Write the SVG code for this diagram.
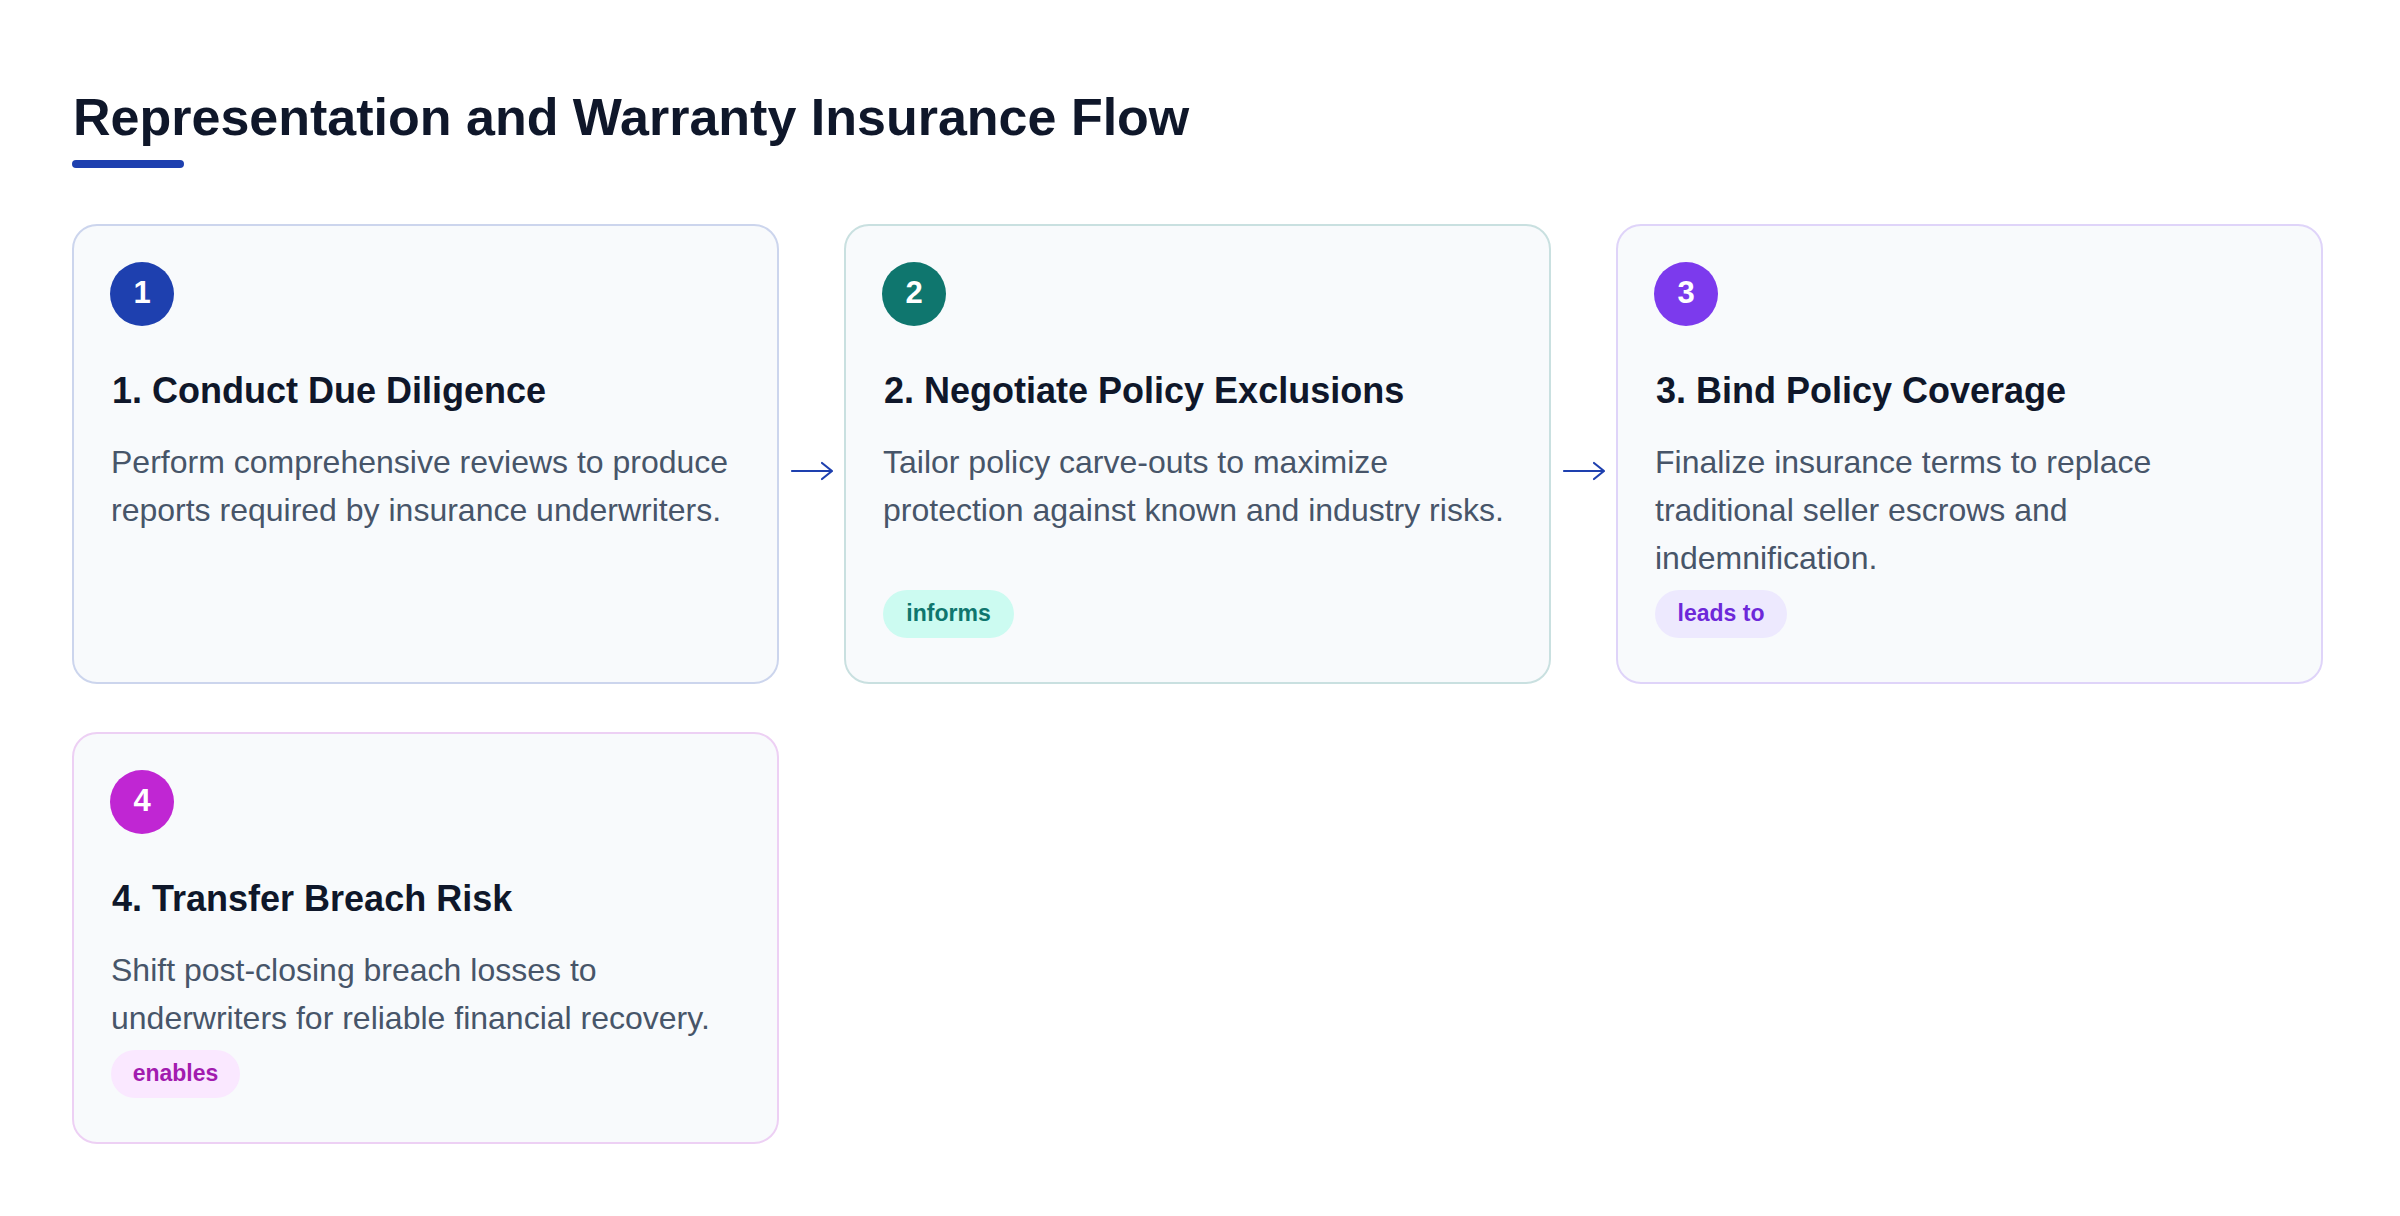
<svg xmlns="http://www.w3.org/2000/svg" width="2400" height="1216" viewBox="0 0 2400 1216">
<style>
.card{fill:#f8fafc;stroke-width:2}
.title{font-family:"Liberation Sans",Arial,sans-serif;font-weight:700;font-size:36px;fill:#0f172a}
.desc{font-family:"Liberation Sans",Arial,sans-serif;font-size:32px;fill:#475569}
.num{font-family:"Liberation Sans",Arial,sans-serif;font-weight:700;font-size:31px;fill:#ffffff;text-anchor:middle}
.pill{font-family:"Liberation Sans",Arial,sans-serif;font-weight:700;font-size:23px;text-anchor:middle}
.conn{fill:none;stroke:#1e40af;stroke-width:2.2;stroke-linecap:round;stroke-linejoin:round}
</style>
<rect width="2400" height="1216" fill="#ffffff"/>
<g id="header">
<text x="73" y="135" font-family="Liberation Sans, Arial, sans-serif" font-weight="700" font-size="52" fill="#0f172a">Representation and Warranty Insurance Flow</text>
<rect x="72" y="160" width="112" height="8" rx="4" fill="#1e40af"/>
</g>
<g id="connectors">
<path class="conn" d="M792 471 H831 M822 463 L832 471 L822 479"/>
<path class="conn" d="M1564 471 H1603 M1594 463 L1604 471 L1594 479"/>
</g>
<g id="node1">
<rect class="card" x="73" y="225" width="705" height="458" rx="24" stroke="#ccd5ed"/>
<circle cx="142" cy="294" r="32" fill="#1e40af"/>
<text class="num" x="142" y="303">1</text>
<text class="title" x="112" y="403">1. Conduct Due Diligence</text>
<text class="desc" x="111" y="473">Perform comprehensive reviews to produce</text>
<text class="desc" x="111" y="521">reports required by insurance underwriters.</text>
</g>
<g id="node2">
<rect class="card" x="845" y="225" width="705" height="458" rx="24" stroke="#c9e0e0"/>
<circle cx="914" cy="294" r="32" fill="#0f766e"/>
<text class="num" x="914" y="303">2</text>
<text class="title" x="884" y="403">2. Negotiate Policy Exclusions</text>
<text class="desc" x="883" y="473">Tailor policy carve-outs to maximize</text>
<text class="desc" x="883" y="521">protection against known and industry risks.</text>
<rect x="883" y="590" width="131" height="48" rx="24" fill="#ccfbf1"/>
<text class="pill" x="948.5" y="621" fill="#0f766e">informs</text>
</g>
<g id="node3">
<rect class="card" x="1617" y="225" width="705" height="458" rx="24" stroke="#dfd4f9"/>
<circle cx="1686" cy="294" r="32" fill="#7c3aed"/>
<text class="num" x="1686" y="303">3</text>
<text class="title" x="1656" y="403">3. Bind Policy Coverage</text>
<text class="desc" x="1655" y="473">Finalize insurance terms to replace</text>
<text class="desc" x="1655" y="521">traditional seller escrows and</text>
<text class="desc" x="1655" y="569">indemnification.</text>
<rect x="1655" y="590" width="132" height="48" rx="24" fill="#ede9fe"/>
<text class="pill" x="1721" y="621" fill="#6d28d9">leads to</text>
</g>
<g id="node4">
<rect class="card" x="73" y="733" width="705" height="410" rx="24" stroke="#edd0f4"/>
<circle cx="142" cy="802" r="32" fill="#c026d3"/>
<text class="num" x="142" y="811">4</text>
<text class="title" x="112" y="911">4. Transfer Breach Risk</text>
<text class="desc" x="111" y="981">Shift post-closing breach losses to</text>
<text class="desc" x="111" y="1029">underwriters for reliable financial recovery.</text>
<rect x="111" y="1050" width="129" height="48" rx="24" fill="#fae8ff"/>
<text class="pill" x="175.5" y="1081" fill="#a21caf">enables</text>
</g>
</svg>
